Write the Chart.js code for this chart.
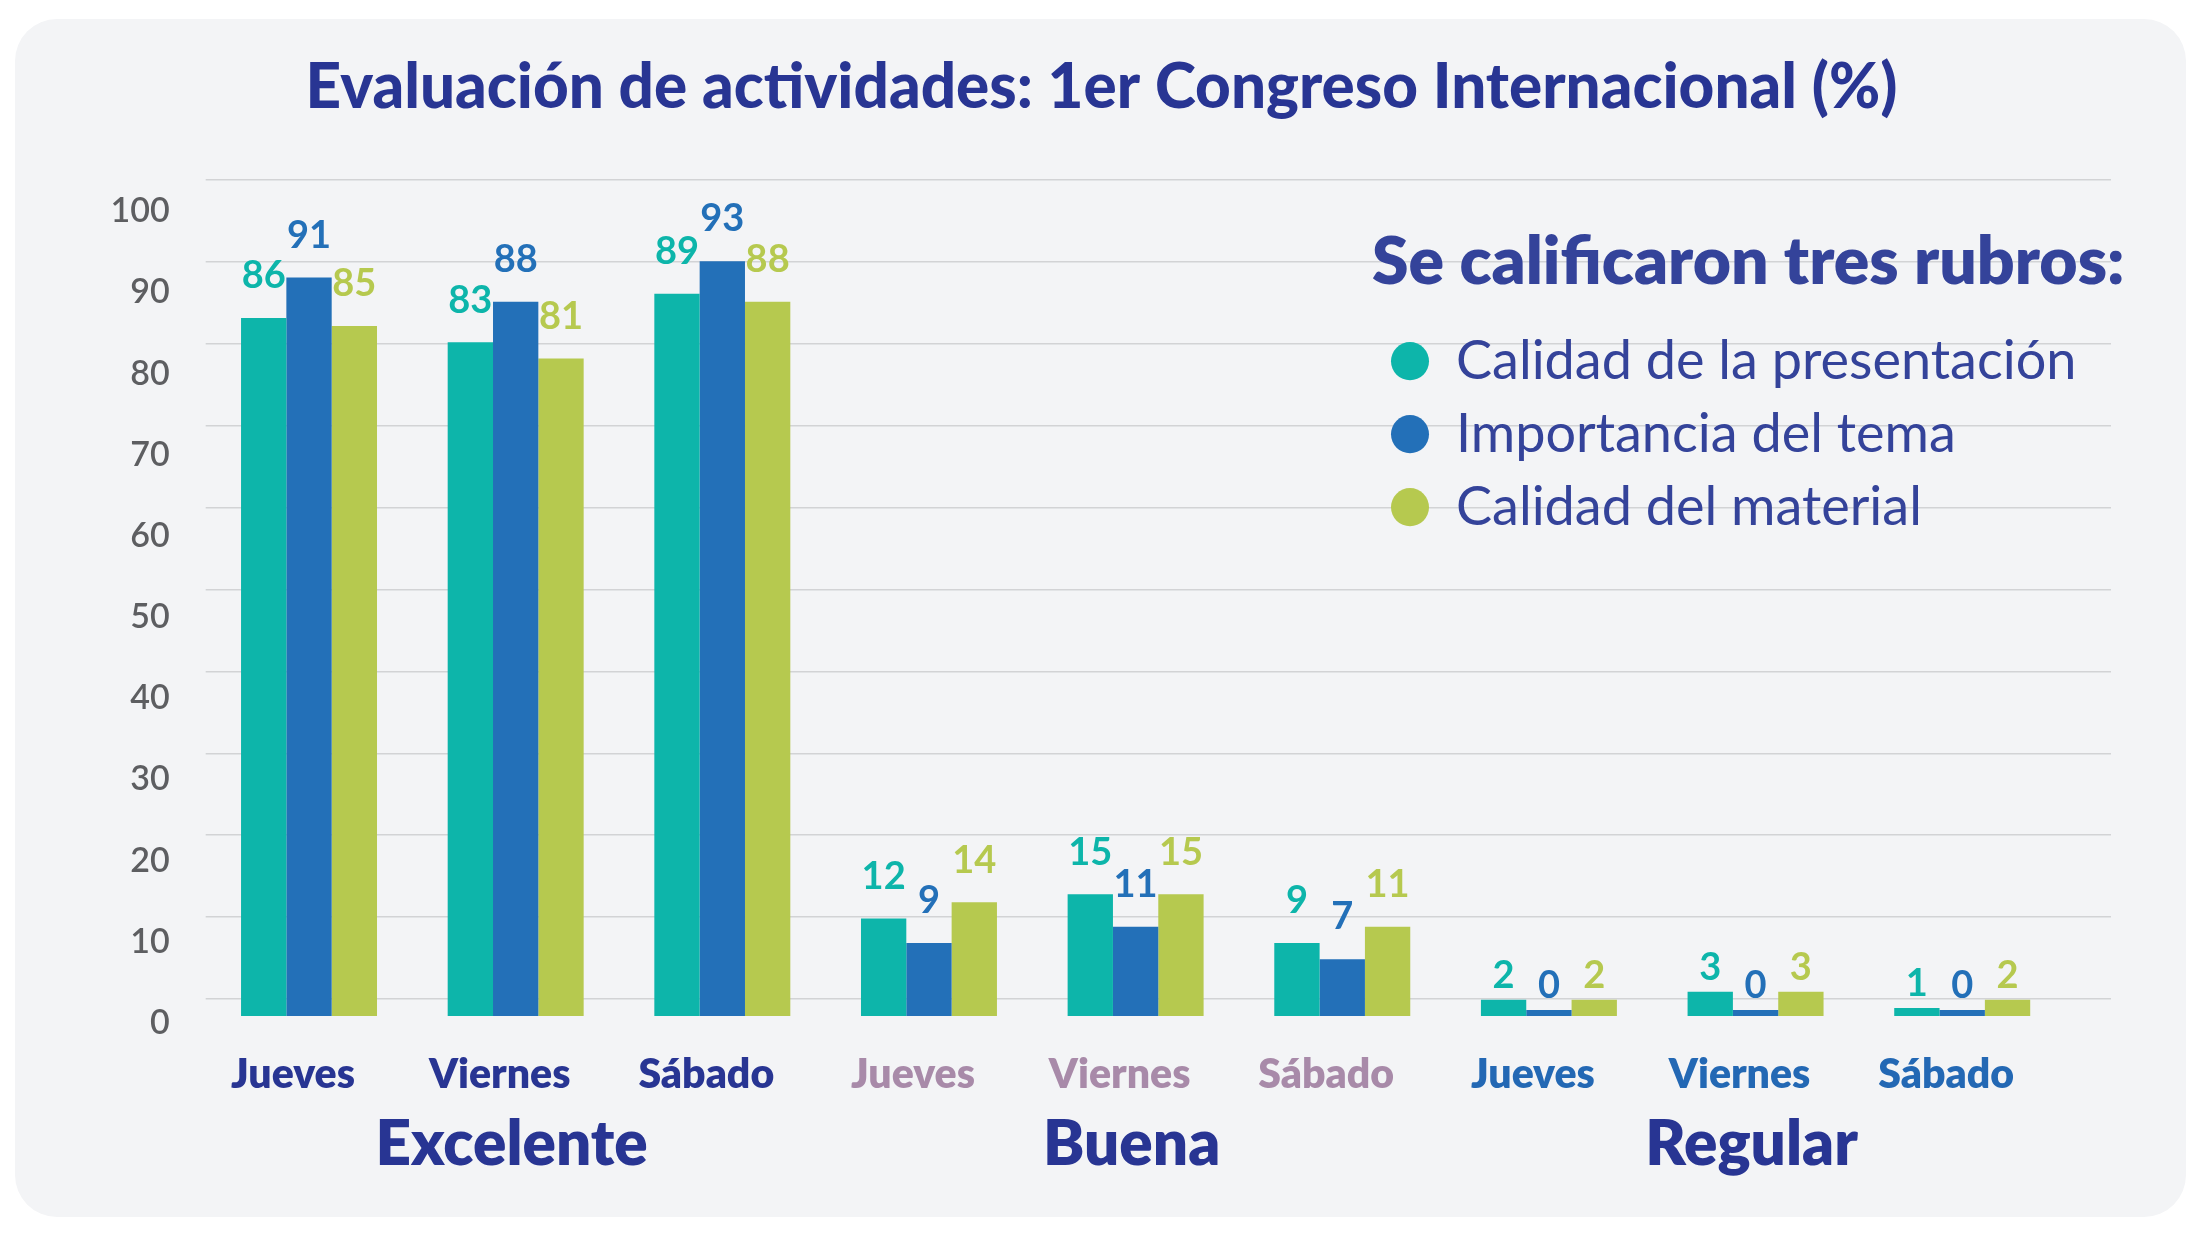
<!DOCTYPE html>
<html><head><meta charset="utf-8">
<script src="https://cdn.jsdelivr.net/npm/chart.js@4.4.1/dist/chart.umd.min.js"></script>
<style>
html,body{margin:0;padding:0;background:#fff;width:2203px;height:1250px;overflow:hidden;}
#card{position:absolute;left:15px;top:19px;width:2171px;height:1198px;border-radius:42px;background:#f3f4f6;}
#wrap{position:absolute;left:0;top:0;width:2203px;height:1250px;}
</style></head><body>
<div id="card"></div>
<div id="wrap"><canvas id="c" width="2203" height="1250"></canvas></div>
<script>
const chartTitle = 'Evaluación de actividades: 1er Congreso Internacional (%)';
const legendTitle = 'Se calificaron tres rubros:';
const groupNames = ['Excelente', 'Buena', 'Regular'];
const dayLabels = ['Jueves', 'Viernes', 'Sábado', 'Jueves', 'Viernes', 'Sábado', 'Jueves', 'Viernes', 'Sábado'];
const seriesNames = ['Calidad de la presentación', 'Importancia del tema', 'Calidad del material'];
const calidadPresentacion = [86, 83, 89, 12, 15, 9, 2, 3, 1];
const importanciaTema = [91, 88, 93, 9, 11, 7, 0, 0, 0];
const calidadMaterial = [85, 81, 88, 14, 15, 11, 2, 3, 2];
const yTickValues = [0, 10, 20, 30, 40, 50, 60, 70, 80, 90, 100];

const seriesColors = ['#0db5aa', '#2370b8', '#b6c94f'];
const groupDayColors = ['#283593', '#a88aa9', '#2368b4'];
const navy = '#283593';
const FONT = 'Lato';

const valueLabels = {
  id: 'valueLabels',
  afterDatasetsDraw(chart) {
    const ctx = chart.ctx;
    ctx.save();
    ctx.font = '700 38px ' + FONT;
    ctx.textAlign = 'center';
    ctx.textBaseline = 'middle';
    chart.data.datasets.forEach((ds, di) => {
      const meta = chart.getDatasetMeta(di);
      meta.data.forEach((bar, i) => {
        const v = ds.data[i];
        ctx.fillStyle = ds.backgroundColor;
        ctx.fillText(String(v), bar.x, bar.y - (v < 5 ? 24 : 42));
      });
    });
    ctx.restore();
  }
};

const legendPlacer = {
  id: 'legendPlacer',
  afterLayout(chart) {
    const L = chart.legend;
    if (!L) return;
    const w = 830, h = 520;
    L.left = 1372; L.top = 230;
    L.width = w; L.height = h;
    L.right = L.left + w; L.bottom = L.top + h;
  }
};

const tickSetter = (vals) => (s) => { s.ticks = vals.map(v => ({ value: v })); };

new Chart(document.getElementById('c'), {
  type: 'bar',
  data: {
    labels: dayLabels.map((_, i) => i),
    datasets: [
      { label: seriesNames[0], data: calidadPresentacion, backgroundColor: seriesColors[0] },
      { label: seriesNames[1], data: importanciaTema, backgroundColor: seriesColors[1] },
      { label: seriesNames[2], data: calidadMaterial, backgroundColor: seriesColors[2] }
    ].map(d => Object.assign(d, {
      borderWidth: 0, minBarLength: 6, categoryPercentage: 0.658, barPercentage: 1,
      xAxisID: 'x', yAxisID: 'y'
    }))
  },
  options: {
    responsive: false,
    animation: false,
    devicePixelRatio: 1,
    events: [],
    layout: { padding: 0 },
    plugins: {
      title: {
        display: true, text: chartTitle, color: navy,
        font: { family: FONT, size: 62, weight: '900' },
        padding: { top: 51, bottom: 54.6 }
      },
      legend: {
        display: true, position: 'chartArea', align: 'start',
        title: {
          display: true, text: legendTitle, color: '#34439a', position: 'start',
          font: { family: FONT, size: 66, weight: '800' },
          padding: { top: 0, bottom: 6 }
        },
        labels: {
          usePointStyle: true, pointStyle: 'circle', pointStyleWidth: 38, boxHeight: 27,
          padding: 19, color: '#34439a',
          font: { family: FONT, size: 54, weight: '400' }
        }
      },
      tooltip: { enabled: false }
    },
    scales: {
      x: {
        type: 'linear', position: 'bottom', weight: 0, min: -0.5, max: 8.72, offset: false,
        grid: { display: false, drawTicks: false }, border: { display: false },
        afterBuildTicks: tickSetter(dayLabels.map((_, i) => i)),
        ticks: {
          autoSkip: false, maxRotation: 0, padding: 34, labelOffset: -16,
          font: { family: FONT, size: 41, weight: '800' },
          color: (c) => groupDayColors[Math.floor(c.index / 3)],
          callback: (v) => dayLabels[v]
        },
        afterFit: (s) => { s.height = 80; }
      },
      x2: {
        type: 'linear', position: 'bottom', weight: 1, min: -0.5, max: 8.72, offset: false,
        grid: { display: false, drawTicks: false }, border: { display: false },
        afterBuildTicks: tickSetter(groupNames.map((_, g) => g * 3 + 1)),
        ticks: {
          autoSkip: false, maxRotation: 0, padding: 12, labelOffset: -4,
          font: { family: FONT, size: 62, weight: '800' },
          color: navy,
          callback: (v) => groupNames[(v - 1) / 3]
        },
        afterFit: (s) => { s.height = 154; }
      },
      y: {
        type: 'linear', position: 'left', min: 0, max: 103,
        grid: { display: false, drawTicks: false }, border: { display: false },
        afterBuildTicks: tickSetter(yTickValues),
        ticks: {
          padding: 36, labelOffset: 7, color: '#5d5e61',
          font: { family: FONT, size: 34, weight: '600' }
        },
        afterFit: (s) => { s.width = 205.7; }
      },
      y2: {
        type: 'linear', position: 'right', min: -2.08, max: 100,
        grid: { color: '#d2d3d5', lineWidth: 1.5, drawTicks: false }, border: { display: false },
        afterBuildTicks: tickSetter(yTickValues),
        ticks: { display: false },
        afterFit: (s) => { s.width = 92; }
      }
    }
  },
  plugins: [valueLabels, legendPlacer]
});
</script>
</body></html>
